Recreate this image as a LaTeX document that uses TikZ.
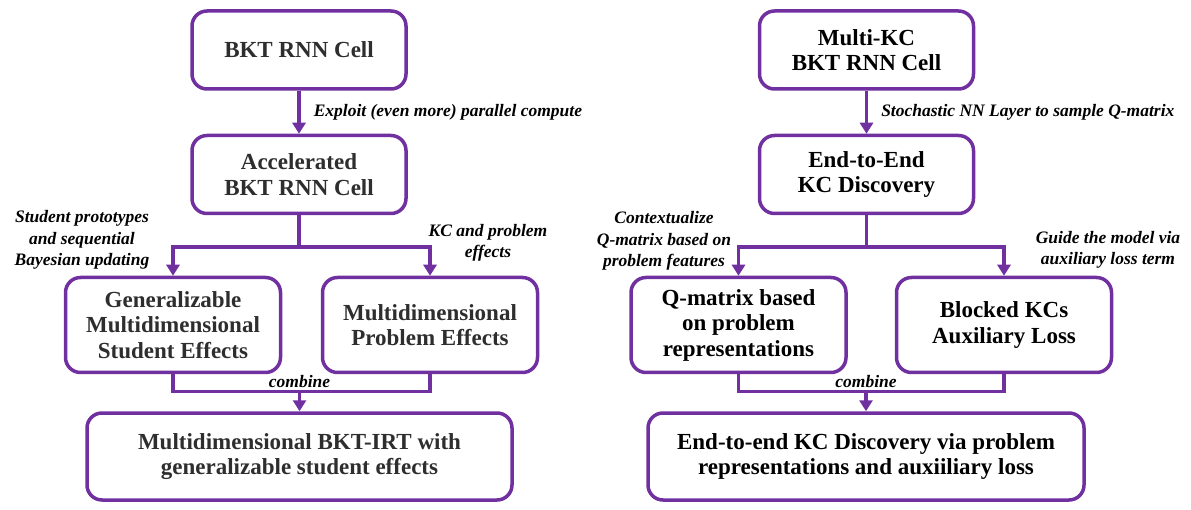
\documentclass[tikz,border=0pt]{standalone}
\usepackage{fontspec}
\setmainfont{Liberation Serif}
\usetikzlibrary{arrows.meta,calc}
\definecolor{kcpurple}{HTML}{7030A0}
\definecolor{boxgray}{HTML}{2E2E2E}

\begin{document}
\begin{tikzpicture}[x=1pt,y=-1pt,
      box/.style={draw=kcpurple, line width=3.5pt, rounded corners=15pt, fill=white,
                  align=center, font=\fontsize{23}{25.5}\selectfont\bfseries, inner sep=0pt},
      smallbox/.style={box, minimum width=214pt, minimum height=78pt},
      midbox/.style={box, minimum width=215pt, minimum height=95pt},
      widebox/.style={box, minimum height=87pt},
      note/.style={align=center, font=\fontsize{17.5}{21.5}\selectfont\bfseries\itshape, inner sep=0pt},
      flow/.style={draw=kcpurple, line width=3.5pt, -{Triangle[width=13pt,length=11pt]}},
      link/.style={draw=kcpurple, line width=3.5pt}]
    \useasboundingbox (0,0) rectangle (1191,510);

    % left column
    \node[smallbox, text=boxgray] (cell) at (299,50) {BKT RNN Cell};
    \node[smallbox, text=boxgray] (acc) at (299,174.5) {Accelerated\\BKT RNN Cell};
    \node[midbox, text=boxgray] (stud) at (173,325) {Generalizable\\Multidimensional\\Student Effects};
    \node[midbox, text=boxgray] (prob) at (430,325) {Multidimensional\\Problem Effects};
    \node[widebox, minimum width=425pt, text=boxgray] (irt) at (299.5,456.5)
         {Multidimensional BKT-IRT with\\generalizable student effects};

    \coordinate (lsplit) at ($(acc.south)+(0,32)$);
    \coordinate (lmerge) at ($(irt.north)-(0,20)$);
    \draw[flow] (cell) -- (acc)
         node[note, pos=0.5, anchor=west, xshift=13pt] (exploit) {Exploit (even more) parallel compute};
    \draw[link] (acc) -- (lsplit);
    \draw[flow] (lsplit) -| (stud);
    \draw[flow] (lsplit) -| (prob);
    \draw[link] (stud) |- (lmerge) -| (prob);
    \draw[flow] (lmerge) -- (irt);

    \node[note] (proto) at (82,240) {Student prototypes\\and sequential\\Bayesian updating};
    \node[note] (kcprob) at (488,243) {KC and problem\\effects};
    \node[note] (lcomb) at (299.5,382) {combine};

    % right column
    \node[smallbox] (mcell) at (866.5,50) {Multi-KC\\BKT RNN Cell};
    \node[smallbox] (disc) at (866.5,174.5) {End-to-End\\KC Discovery};
    \node[midbox] (qmat) at (738.5,325) {Q-matrix based\\on problem\\representations};
    \node[midbox] (block) at (1004,325) {Blocked KCs\\Auxiliary Loss};
    \node[widebox, minimum width=436pt] (full) at (866,456.5)
         {End-to-end KC Discovery via problem\\representations and auxiiliary loss};

    \coordinate (rsplit) at ($(disc.south)+(0,32)$);
    \coordinate (rmerge) at ($(full.north)-(0,20)$);
    \draw[flow] (mcell) -- (disc)
         node[note, pos=0.5, anchor=west, xshift=13pt] (stoch) {Stochastic NN Layer to sample Q-matrix};
    \draw[link] (disc) -- (rsplit);
    \draw[flow] (rsplit) -| (qmat);
    \draw[flow] (rsplit) -| (block);
    \draw[link] (qmat) |- (rmerge) -| (block);
    \draw[flow] (rmerge) -- (full);

    \node[note] (context) at (664,241) {Contextualize\\Q-matrix based on\\problem features};
    \node[note] (guide) at (1108,250) {Guide the model via\\auxiliary loss term};
    \node[note] (rcomb) at (866,382) {combine};
\end{tikzpicture}
\end{document}
